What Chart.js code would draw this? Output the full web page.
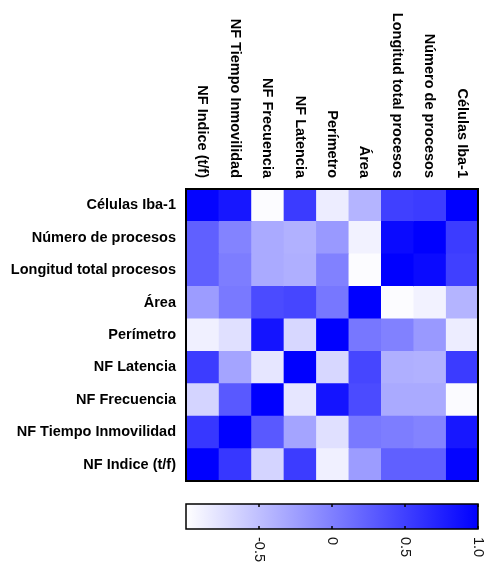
<!DOCTYPE html>
<html>
<head>
<meta charset="utf-8">
<script src="https://cdn.jsdelivr.net/npm/chart.js@4.4.0/dist/chart.umd.min.js"></script>
<style>
  html, body { margin: 0; padding: 0; background: #fff; }
  #wrap { width: 487px; height: 569px; position: relative; }
</style>
</head>
<body>
<div id="wrap"><canvas id="chartCorr"></canvas></div>
<script>
const colLabels = ['NF Indice (t/f)', 'NF Tiempo Inmovilidad', 'NF Frecuencia', 'NF Latencia', 'Perímetro', 'Área', 'Longitud total procesos', 'Número de procesos', 'Células Iba-1'];
const rowLabels = ['Células Iba-1', 'Número de procesos', 'Longitud total procesos', 'Área', 'Perímetro', 'NF Latencia', 'NF Frecuencia', 'NF Tiempo Inmovilidad', 'NF Indice (t/f)'];

// one row per rowLabels entry (top to bottom), columns in colLabels order
const corr = [
  [0.97, 0.82, -0.98, 0.54, -0.86, -0.41, 0.50, 0.53, 1.00],
  [0.25, -0.03, -0.33, -0.39, -0.20, -0.90, 0.92, 1.00, 0.53],
  [0.25, 0.02, -0.33, -0.37, -0.01, -0.98, 1.00, 0.92, 0.50],
  [-0.22, 0.05, 0.41, 0.45, 0.07, 1.00, -0.98, -0.90, -0.41],
  [-0.88, -0.76, 0.84, -0.69, 1.00, 0.07, -0.01, -0.20, -0.86],
  [0.53, -0.29, -0.80, 1.00, -0.69, 0.45, -0.37, -0.39, 0.54],
  [-0.66, 0.30, 1.00, -0.80, 0.84, 0.41, -0.33, -0.33, -0.97],
  [0.57, 1.00, 0.30, -0.29, -0.76, 0.05, 0.02, -0.03, 0.82],
  [1.00, 0.57, -0.66, 0.53, -0.88, -0.22, 0.25, 0.25, 0.97]
];

const colorbarTicks = [-0.5, 0, 0.5, 1.0];
const colorbarTickLabels = ['-0.5', '0', '0.5', '1.0'];

const FONT = '"Liberation Sans", Arial, sans-serif';

// white at -1, pure blue at +1
const toColor = v => {
  const c = Math.round(255 * (1 - v) / 2);
  return `rgb(${c},${c},255)`;
};

// each column is a dataset of 9 unit bars stacked along x
const datasets = colLabels.map((name, j) => ({
  label: name,
  data: rowLabels.map(() => 1),
  backgroundColor: corr.map(row => toColor(row[j])),
  borderWidth: 0,
  barPercentage: 1,
  categoryPercentage: 1
}));

const extras = {
  id: 'extras',
  afterDraw(chart) {
    const { ctx, chartArea: a, scales } = chart;
    ctx.save();

    // frame round the heatmap
    ctx.strokeStyle = '#000';
    ctx.lineWidth = 2;
    ctx.strokeRect(a.left, a.top, a.right - a.left, a.bottom - a.top);

    // column labels, rotated clockwise, ending just above the grid
    ctx.fillStyle = '#000';
    ctx.font = `bold 14.5px ${FONT}`;
    ctx.textAlign = 'right';
    ctx.textBaseline = 'middle';
    colLabels.forEach((t, j) => {
      const x = scales.x.getPixelForValue(j + 0.5);
      ctx.save();
      ctx.translate(x, a.top - 11);
      ctx.rotate(Math.PI / 2);
      ctx.fillText(t, 0, 0);
      ctx.restore();
    });

    // colour bar
    const cb = scales.cb;
    const x0 = cb.getPixelForValue(-1);
    const x1 = cb.getPixelForValue(1);
    const y0 = a.bottom + 23;
    const h = 25;
    const grad = ctx.createLinearGradient(x0, 0, x1, 0);
    grad.addColorStop(0, toColor(-1));
    grad.addColorStop(1, toColor(1));
    ctx.fillStyle = grad;
    ctx.fillRect(x0, y0, x1 - x0, h);
    ctx.lineWidth = 1.5;
    ctx.strokeRect(x0, y0, x1 - x0, h);

    ctx.font = `14.5px ${FONT}`;
    ctx.textAlign = 'left';
    ctx.fillStyle = '#111';
    colorbarTicks.forEach((v, i) => {
      const x = cb.getPixelForValue(v);
      ctx.beginPath();
      ctx.moveTo(x, y0); ctx.lineTo(x, y0 + 3);
      ctx.moveTo(x, y0 + h - 3); ctx.lineTo(x, y0 + h);
      ctx.stroke();
      ctx.save();
      ctx.translate(x, y0 + h + 8);
      ctx.rotate(Math.PI / 2);
      ctx.fillText(colorbarTickLabels[i], 0, 0);
      ctx.restore();
    });

    ctx.restore();
  }
};

new Chart(document.getElementById('chartCorr'), {
  type: 'bar',
  data: { labels: rowLabels, datasets },
  options: {
    indexAxis: 'y',
    responsive: true,
    maintainAspectRatio: false,
    animation: false,
    layout: { padding: { left: 0, top: 189, right: 9, bottom: 88 } },
    plugins: { legend: { display: false }, tooltip: { enabled: false } },
    scales: {
      x: { stacked: true, min: 0, max: 9, display: false },
      cb: { type: 'linear', axis: 'x', position: 'bottom', min: -1, max: 1, display: false },
      y: {
        stacked: true,
        grid: { display: false, drawTicks: false },
        border: { display: false },
        ticks: { color: '#000', padding: 10, font: { family: FONT, size: 14.5, weight: 'bold' } },
        afterFit: s => { s.width = 186; }
      }
    }
  },
  plugins: [extras]
});
</script>
</body>
</html>
